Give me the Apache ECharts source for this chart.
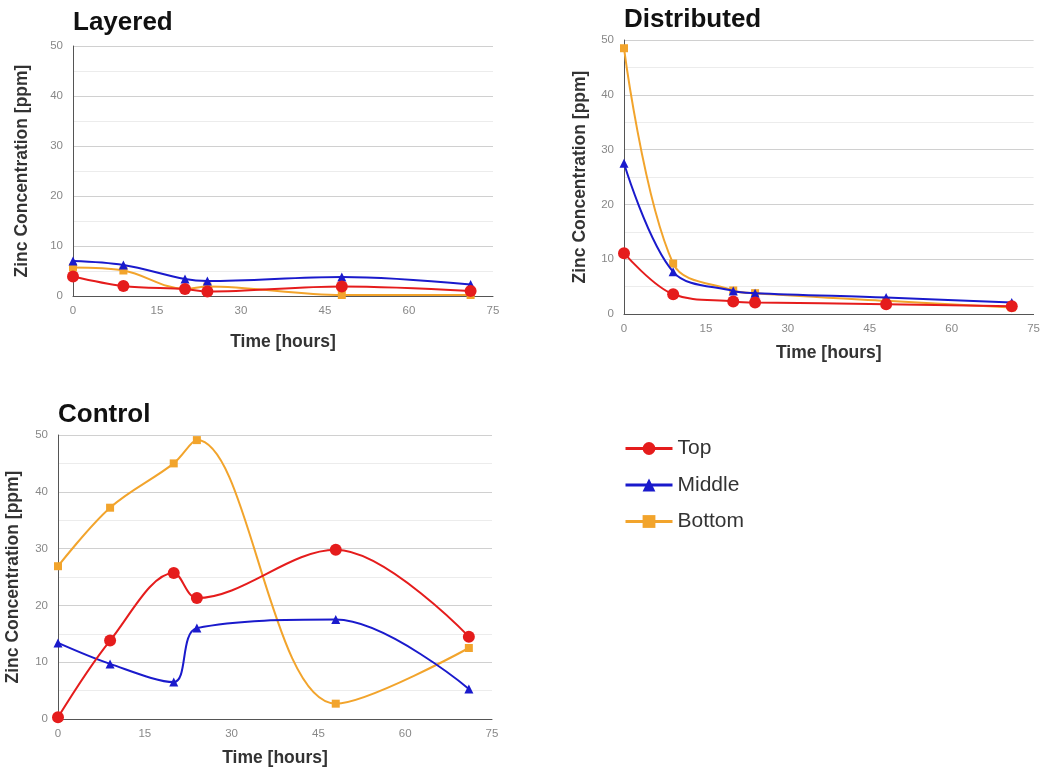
<!DOCTYPE html>
<html>
<head>
<meta charset="utf-8">
<script src="https://cdn.jsdelivr.net/npm/echarts@6/dist/echarts.min.js"></script>
<style>html,body{margin:0;padding:0;background:#fff}#c{width:1043px;height:770px}</style>
</head>
<body>
<div id="c"></div>
<script>
const hours = [0, 9, 20, 24, 48, 71];
const seriesNames = ['Top', 'Middle', 'Bottom'];
const panelTitles = ['Layered', 'Distributed', 'Control'];
const xTicks = [0, 15, 30, 45, 60, 75];
const yTicks = [0, 10, 20, 30, 40, 50];

const layeredTop    = [3.9, 2.0, 1.4, 0.9, 1.9, 1.0];
const layeredMiddle = [7.0, 6.2, 3.4, 3.0, 3.8, 2.3];
const layeredBottom = [5.7, 5.1, 1.4, 1.9, 0.2, 0.2];

const distributedTop    = [11.1, 3.6, 2.3, 2.1, 1.8, 1.4];
const distributedMiddle = [27.5, 7.7, 4.2, 3.8, 3.0, 2.1];
const distributedBottom = [48.5, 9.2, 4.3, 3.8, 2.4, 1.2];

const controlTop    = [0.3, 13.8, 25.7, 21.3, 29.8, 14.5];
const controlMiddle = [13.4, 9.7, 6.5, 16.0, 17.5, 5.3];
const controlBottom = [26.9, 37.2, 45.0, 49.1, 2.7, 12.5];

const panels = [
  [layeredTop, layeredMiddle, layeredBottom],
  [distributedTop, distributedMiddle, distributedBottom],
  [controlTop, controlMiddle, controlBottom]
];

const colors = ['#e51c1c', '#1a1acc', '#f2a42c'];
const symbols = ['circle', 'triangle', 'rect'];
const symbolSizes = [12, 9, 8];

const grids = [
  {left: 73, top: 46, width: 420, height: 250},
  {left: 624, top: 40, width: 411, height: 274},
  {left: 58, top: 435, width: 434, height: 284}
];
const titlePos = [{left: 73, top: 10}, {left: 624, top: 7}, {left: 58, top: 402}];
const xNameGap = [37, 30, 30];
const yNameGap = [42, 35, 36];

const font = 'Liberation Sans, Arial, sans-serif';

const option = {
  backgroundColor: '#fff',
  animation: false,
  title: panelTitles.map((t, i) => ({
    text: t, left: titlePos[i].left, top: titlePos[i].top, padding: 0,
    textStyle: {fontFamily: font, fontWeight: 'bold', fontSize: 26, color: '#111'}
  })),
  legend: {
    data: seriesNames,
    orient: 'vertical',
    left: 619, top: 433,
    itemWidth: 47, itemHeight: 16, itemGap: 15.5,
    lineStyle: {width: 3},
    textStyle: {fontFamily: font, fontSize: 21, color: '#333'}
  },
  grid: grids,
  xAxis: grids.map((g, i) => ({
    type: 'value', gridIndex: i, min: 0, max: 75, interval: 15,
    name: 'Time [hours]', nameLocation: 'middle', nameGap: xNameGap[i],
    nameTextStyle: {fontFamily: font, fontWeight: 'bold', fontSize: 17.5, color: '#333'},
    axisLine: {show: true, onZero: true, lineStyle: {color: '#555', width: 1}},
    axisTick: {show: false},
    splitLine: {show: false},
    axisLabel: {fontFamily: font, fontSize: 11.5, color: '#888', margin: 9,
      formatter: v => xTicks.includes(v) ? String(v) : ''}
  })),
  yAxis: grids.map((g, i) => ({
    type: 'value', gridIndex: i, min: 0, max: 50, interval: 10,
    name: 'Zinc Concentration [ppm]', nameLocation: 'middle', nameGap: yNameGap[i],
    nameTextStyle: {fontFamily: font, fontWeight: 'bold', fontSize: 17.5, color: '#333'},
    axisLine: {show: true, lineStyle: {color: '#555', width: 1}},
    axisTick: {show: false},
    splitLine: {show: true, lineStyle: {color: '#d0d0d0', width: 1}},
    minorTick: {show: false, splitNumber: 2},
    minorSplitLine: {show: true, lineStyle: {color: '#ececec', width: 1}},
    axisLabel: {fontFamily: font, fontSize: 11.5, color: '#888', margin: 10,
      formatter: v => yTicks.includes(v) ? String(v) : ''}
  })),
  series: []
};

panels.forEach((vals, p) => {
  vals.forEach((arr, s) => {
    option.series.push({
      type: 'line',
      name: seriesNames[s],
      xAxisIndex: p, yAxisIndex: p,
      data: hours.map((h, k) => [h, arr[k]]),
      smooth: 0.35,
      symbol: symbols[s],
      symbolSize: symbolSizes[s],
      showSymbol: true,
      color: colors[s],
      lineStyle: {color: colors[s], width: 2},
      itemStyle: {color: colors[s]},
      z: 3 - s
    });
  });
});

const chart = echarts.init(document.getElementById('c'), null, {renderer: 'canvas'});
chart.setOption(option);
</script>
</body>
</html>
